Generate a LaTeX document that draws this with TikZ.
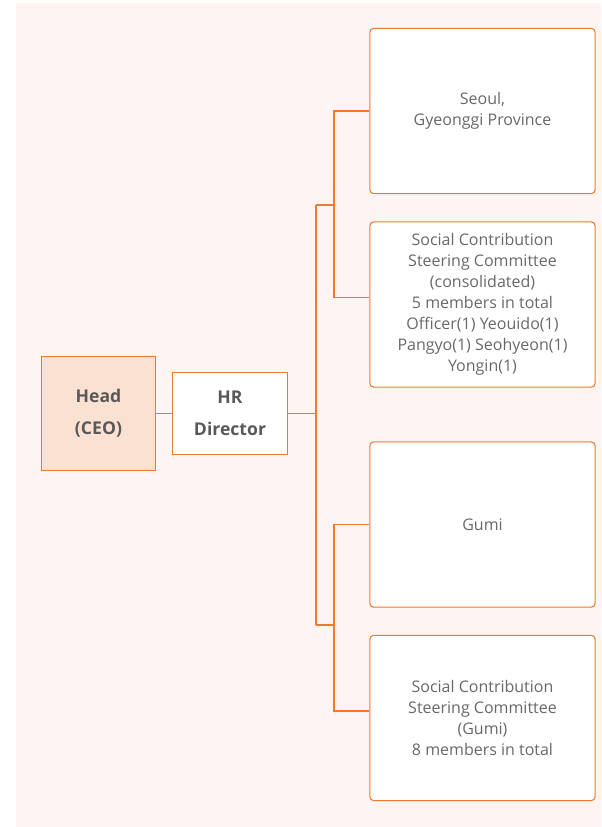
\documentclass[tikz,border=0pt]{standalone}
\usepackage{fontspec}
\setmainfont{Open Sans}
\usepackage{xcolor}
\usetikzlibrary{positioning}
\definecolor{orgline}{RGB}{238,122,48}
\definecolor{orgbg}{RGB}{254,244,241}
\definecolor{orgfill}{RGB}{251,225,210}
\definecolor{txtgrey}{RGB}{105,105,105}

\begin{document}
\begin{tikzpicture}[x=0.75pt, y=-0.75pt,
  unit/.style={draw=orgline,line width=0.8pt,fill=white,text=txtgrey,align=center,
    minimum width=169pt,minimum height=124pt,rounded corners=3pt,
    font=\fontsize{12}{15.75}\selectfont},
  head/.style={draw=orgline,line width=0.8pt,text=txtgrey!85!black,align=center,
    font=\fontsize{13.2}{24}\selectfont\bfseries},
  link/.style={draw=orgline,line width=0.8pt}]
  \useasboundingbox (0,0) rectangle (601,827);
  \fill[orgbg] (16,3) rectangle (601,827);
  \node[head,fill=orgfill,minimum width=86pt,minimum height=85pt] (ceo) at (98.5,413.5) {Head\\(CEO)};
  \node[head,fill=white,minimum width=86pt,minimum height=62pt] (hr) at (230,413.5) {HR\\Director};
  \node[unit] (seoul) at (482.5,111) {Seoul,\\Gyeonggi Province};
  \node[unit] (committee) at (482.5,304.5) {Social Contribution\\Steering Committee\\(consolidated)\\5 members in total\\Officer(1) Yeouido(1)\\Pangyo(1) Seohyeon(1)\\Yongin(1)};
  \node[unit] (gumi) at (482.5,524.5) {Gumi};
  \node[unit] (gumicom) at (482.5,718) {Social Contribution\\Steering Committee\\(Gumi)\\8 members in total};
  \coordinate (trunk) at (316,413.5);
  \coordinate (up) at (334,205);
  \coordinate (down) at (334,625);
  \draw[link] (ceo) -- (hr);
  \draw[link] (hr) -- (trunk);
  \draw[link] (up -| trunk) -- (down -| trunk);
  \draw[link] (up -| trunk) -- (up);
  \draw[link] (down -| trunk) -- (down);
  \draw[link] (seoul.west) -| (up) |- ([yshift=5.25pt]committee.west);
  \draw[link] (gumi.west) -| (down) |- ([yshift=5.25pt]gumicom.west);
\end{tikzpicture}
\end{document}
